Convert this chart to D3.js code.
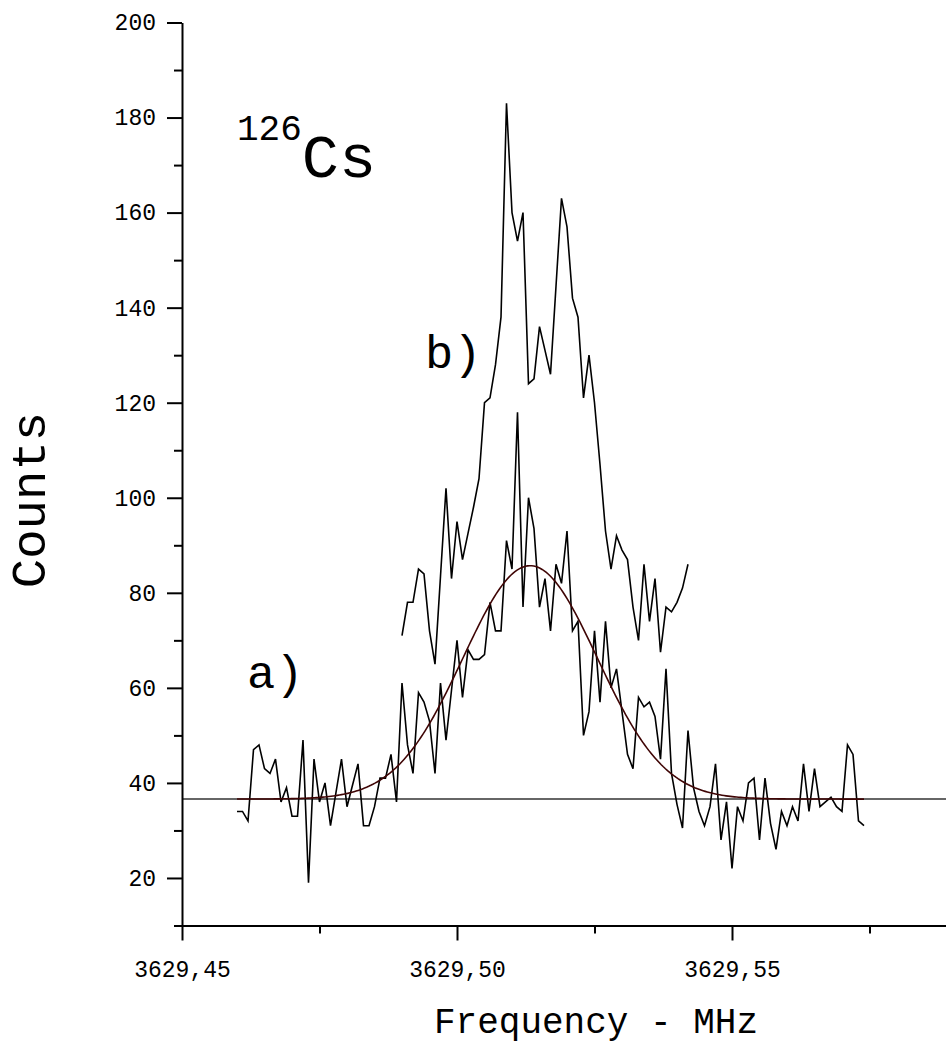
<!DOCTYPE html>
<html><head><meta charset="utf-8">
<script src="https://cdn.jsdelivr.net/npm/d3@7"></script>
<style>
body{margin:0;background:#fff}
svg{display:block;background:#fff}
text{font-family:"Liberation Mono","Courier New",monospace;fill:#000}
</style>
</head><body>
<svg id="chart" width="946" height="1047"></svg>
<script>
// ---- data ----
const yTickValues = [20, 40, 60, 80, 100, 120, 140, 160, 180, 200];
const yMinorTicks = [10, 30, 50, 70, 90, 110, 130, 150, 170, 190];
const xTickValues = [3629.45, 3629.50, 3629.55];
const xMinorTicks = [3629.475, 3629.525, 3629.575];
const xTickLabels = ["3629,45", "3629,50", "3629,55"];

const freqStep = 0.001;          // MHz between channels
const seriesAStart = 3629.460;   // first channel of trace a)
const seriesBStart = 3629.490;   // first channel of trace b)

const seriesA = [34, 34, 32, 47, 48, 43, 42, 45, 36, 39,
                 33, 33, 49, 19, 45, 36, 40, 31, 38, 45,
                 35, 39.5, 44, 31, 31, 35, 41, 41, 46, 36,
                 61, 48, 42, 59, 57, 53, 42, 61, 49, 59.5,
                 70, 58, 68, 66, 66, 67, 78, 72, 72, 91,
                 85, 118, 77, 100, 93.5, 77, 83, 72, 86, 82,
                 93, 72, 74, 50, 55, 72, 57, 74, 60, 64,
                 55, 46, 43, 58, 56, 57, 54, 45, 64, 42,
                 35.5, 30.5, 51, 39, 34, 31, 35, 44, 28, 36,
                 22, 35, 32, 40, 41, 28, 41, 31.5, 26, 34,
                 31, 35, 32, 44, 34, 43, 35, 36, 37, 35,
                 34, 48, 46, 32, 31];

const seriesB = [71, 78, 78, 85, 84, 72, 65, 83.5, 102, 83,
                 95, 87, 92.5, 98, 104, 120, 121, 128, 138, 183,
                 160, 154, 160, 124, 125, 136, 131, 126, 144.5, 163,
                 157, 142, 138, 121, 130, 120, 107, 93, 85, 92,
                 89, 87, 77, 70, 86, 74, 83, 67.5, 77, 76,
                 78, 81, 86];

// Gaussian fit drawn through trace a)
const fitOffset = 36.6;
const fitAmplitude = 49.1;
const fitCenter = 3629.5133;
const fitSigma = 0.01218;

// ---- chart ----
const FONT = '"Liberation Mono","Courier New",monospace';
const svg = d3.select("#chart");
const x = d3.scaleLinear().domain([3629.45, 3629.59]).range([182, 952]);
const y = d3.scaleLinear().domain([10, 200]).range([925.5, 22.5]);

const ptsA = seriesA.map((v, i) => [seriesAStart + i * freqStep, v]);
const ptsB = seriesB.map((v, i) => [seriesBStart + i * freqStep, v]);

const line = d3.line().x(d => x(d[0])).y(d => y(d[1]));

// baseline of the fit across the whole plot
svg.append("line")
  .attr("x1", x(3629.45)).attr("x2", 946)
  .attr("y1", y(fitOffset)).attr("y2", y(fitOffset))
  .attr("stroke", "#333").attr("stroke-width", 1.5);

// data traces
svg.append("path").datum(ptsA).attr("d", line)
  .attr("fill", "none").attr("stroke", "#000").attr("stroke-width", 1.6);
svg.append("path").datum(ptsB).attr("d", line)
  .attr("fill", "none").attr("stroke", "#000").attr("stroke-width", 1.6);

// fit curve
const f0 = ptsA[0][0], f1 = ptsA[ptsA.length - 1][0];
const fitPts = d3.range(0, 301).map(k => {
  const f = f0 + (f1 - f0) * k / 300;
  return [f, fitOffset + fitAmplitude * Math.exp(-((f - fitCenter) ** 2) / (2 * fitSigma * fitSigma))];
});
svg.append("path").datum(fitPts).attr("d", line)
  .attr("fill", "none").attr("stroke", "#3f0505").attr("stroke-width", 1.6);

// axes
const yAxis = svg.append("g").attr("transform", `translate(${x(3629.45)},0)`)
  .call(d3.axisLeft(y).tickValues(yTickValues).tickSize(15).tickSizeOuter(0)
    .tickPadding(11).tickFormat(d3.format("d")));
yAxis.selectAll("text").attr("font-size", 23).style("font-family", FONT);
const yMinor = svg.append("g").attr("transform", `translate(${x(3629.45)},0)`)
  .call(d3.axisLeft(y).tickValues(yMinorTicks).tickSize(8).tickFormat(""));
yMinor.select(".domain").remove();

const xAxis = svg.append("g").attr("transform", `translate(0,${y(10)})`)
  .call(d3.axisBottom(x).tickValues(xTickValues).tickSize(15).tickSizeOuter(0)
    .tickPadding(20).tickFormat((d, i) => xTickLabels[i]));
xAxis.selectAll("text").attr("font-size", 23).style("font-family", FONT);
const xMinor = svg.append("g").attr("transform", `translate(0,${y(10)})`)
  .call(d3.axisBottom(x).tickValues(xMinorTicks).tickSize(8).tickFormat(""));
xMinor.select(".domain").remove();

svg.selectAll(".domain, .tick line").attr("stroke", "#000").attr("stroke-width", 2);

// axis titles
svg.append("text").attr("x", 596).attr("y", 1033).attr("text-anchor", "middle")
  .attr("font-size", 36).text("Frequency - MHz");
svg.append("text").attr("transform", "translate(45,500) rotate(-90)")
  .attr("text-anchor", "middle").attr("font-size", 49).text("Counts");

// annotations
svg.append("text").attr("x", 247).attr("y", 688).attr("font-size", 47).text("a)");
svg.append("text").attr("x", 425).attr("y", 368).attr("font-size", 47).text("b)");
const iso = svg.append("text").attr("x", 237).attr("y", 140);
iso.append("tspan").attr("font-size", 36).text("126");
iso.append("tspan").attr("font-size", 62).attr("dy", 37).text("Cs");
</script>
</body></html>
